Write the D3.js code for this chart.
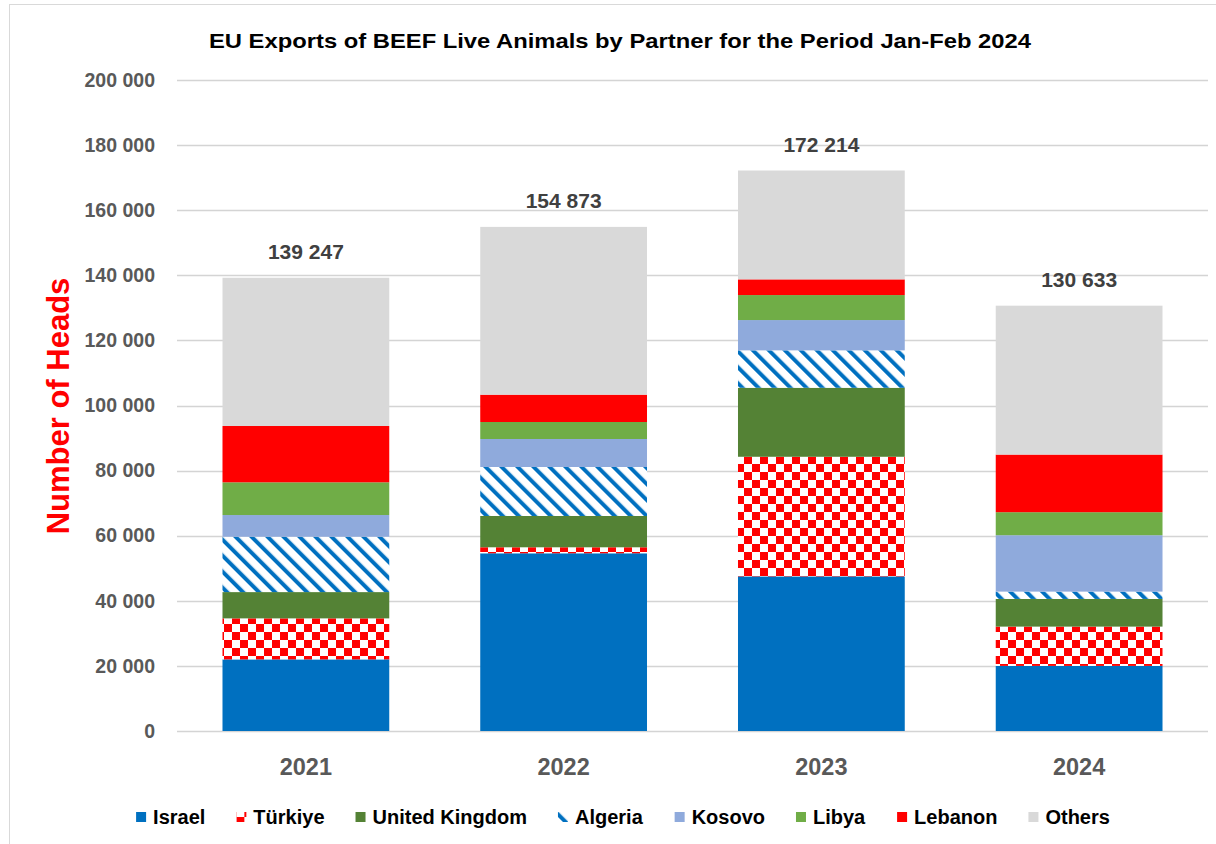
<!DOCTYPE html>
<html>
<head>
<meta charset="utf-8">
<script src="https://cdn.jsdelivr.net/npm/d3@7/dist/d3.min.js"></script>
<style>
  body { margin: 0; background: #fff; }
  svg { display: block; font-family: "Liberation Sans", Arial, sans-serif; }
</style>
</head>
<body>
<svg id="chart" width="1216" height="844"></svg>
<script>
// DATA
var years = ["2021", "2022", "2023", "2024"];
var partners = ["Israel", "Türkiye", "United Kingdom", "Algeria", "Kosovo", "Libya", "Lebanon", "Others"];
var israel   = [22000, 54600, 47500, 20000];
var turkiye  = [12600,  1840, 36750, 12070];
var uk       = [ 8080,  9620, 21200,  8510];
var algeria  = [17000, 15050, 11490,  2240];
var kosovo   = [ 6670,  8600,  9310, 17330];
var libya    = [10050,  5220,  7680,  7070];
var lebanon  = [17300,  8390,  4820, 17700];
var others   = [45547, 51555, 33443, 45748];
var totals   = [139247, 154873, 172214, 130633];
var yTicks   = [0, 20000, 40000, 60000, 80000, 100000, 120000, 140000, 160000, 180000, 200000];

var seriesValues = [israel, turkiye, uk, algeria, kosovo, libya, lebanon, others];
var fills = ["#0070C0", "url(#checker)", "#548235", "url(#diag)", "#8FAADC", "#70AD47", "#FF0000", "#D9D9D9"];

var svg = d3.select("#chart");

// chart border
svg.append("rect")
  .attr("x", 9.5).attr("y", 4.5)
  .attr("width", 1230).attr("height", 860)
  .attr("fill", "none").attr("stroke", "#d9d9d9");

// PATTERNS
var defs = svg.append("defs");
var chk = defs.append("pattern")
  .attr("id", "checker")
  .attr("patternUnits", "userSpaceOnUse")
  .attr("width", 16).attr("height", 16);
chk.append("rect").attr("width", 16).attr("height", 16).attr("fill", "#fff");
chk.append("rect").attr("x", 0).attr("y", 0).attr("width", 8).attr("height", 8).attr("fill", "#FF0000");
chk.append("rect").attr("x", 8).attr("y", 8).attr("width", 8).attr("height", 8).attr("fill", "#FF0000");

var dg = defs.append("pattern")
  .attr("id", "diag")
  .attr("patternUnits", "userSpaceOnUse")
  .attr("width", 11.31).attr("height", 11.31)
  .attr("patternTransform", "rotate(-45)");
dg.append("rect").attr("width", 11.31).attr("height", 11.31).attr("fill", "#fff");
dg.append("rect").attr("width", 4).attr("height", 11.31).attr("fill", "#0070C0");

// SCALES
var x = d3.scaleBand()
  .domain(years)
  .range([177, 1208])
  .paddingInner(0.353)
  .paddingOuter(0.1765);

var y = d3.scaleLinear()
  .domain([0, 200000])
  .range([731, 80]);

var fmt = function(v) { return d3.format(",")(v).replace(/,/g, " "); };

// gridlines
svg.append("g")
  .selectAll("line")
  .data(yTicks)
  .enter().append("line")
  .attr("x1", 177).attr("x2", 1208)
  .attr("y1", function(d) { return Math.round(y(d)) + 0.5; })
  .attr("y2", function(d) { return Math.round(y(d)) + 0.5; })
  .attr("stroke", "#d4d4d4").attr("stroke-width", 1.3);

// y axis (no line, labels only)
var yAxis = svg.append("g")
  .attr("transform", "translate(177,0)")
  .call(d3.axisLeft(y).tickValues(yTicks).tickFormat(fmt).tickSize(0).tickPadding(22));
yAxis.select(".domain").remove();
yAxis.selectAll("text")
  .attr("font-family", "Liberation Sans, Arial, sans-serif")
  .attr("font-size", 19.5).attr("font-weight", "bold").attr("fill", "#595959");

// x axis labels
var xAxis = svg.append("g")
  .attr("transform", "translate(0,731)")
  .call(d3.axisBottom(x).tickSize(0).tickPadding(27));
xAxis.select(".domain").remove();
xAxis.selectAll("text")
  .attr("font-family", "Liberation Sans, Arial, sans-serif")
  .attr("font-size", 23.5).attr("font-weight", "bold").attr("fill", "#595959");

// STACK
var rows = years.map(function(yr, i) {
  var r = { year: yr };
  partners.forEach(function(p, k) { r[p] = seriesValues[k][i]; });
  return r;
});
var stacked = d3.stack().keys(partners)(rows);

svg.append("g")
  .selectAll("g")
  .data(stacked)
  .enter().append("g")
  .attr("fill", function(d, i) { return fills[i]; })
  .selectAll("rect")
  .data(function(d) { return d; })
  .enter().append("rect")
  .attr("x", function(d) { return x(d.data.year); })
  .attr("width", x.bandwidth())
  .attr("y", function(d) { return y(d[1]); })
  .attr("height", function(d) { return y(d[0]) - y(d[1]); });

// total labels
svg.append("g")
  .selectAll("text")
  .data(years)
  .enter().append("text")
  .attr("x", function(d) { return x(d) + x.bandwidth() / 2; })
  .attr("y", function(d, i) { return y(d3.sum(seriesValues, function(s) { return s[i]; })) - 19; })
  .attr("text-anchor", "middle")
  .attr("font-size", 21).attr("font-weight", "bold").attr("fill", "#404040")
  .text(function(d, i) { return fmt(totals[i]); });

// title
svg.append("text")
  .attr("x", 620).attr("y", 48)
  .attr("text-anchor", "middle")
  .attr("font-size", 21).attr("font-weight", "bold").attr("fill", "#000")
  .attr("textLength", 822).attr("lengthAdjust", "spacingAndGlyphs")
  .text("EU Exports of BEEF Live Animals by Partner for the Period Jan-Feb 2024");

// y axis title
svg.append("text")
  .attr("transform", "translate(58,406) rotate(-90)")
  .attr("text-anchor", "middle")
  .attr("dominant-baseline", "central")
  .attr("font-size", 31).attr("font-weight", "bold").attr("fill", "#FF0000")
  .text("Number of Heads");

// LEGEND
var legend = svg.append("g");
var items = legend.selectAll("g")
  .data(partners)
  .enter().append("g");
items.append("rect")
  .attr("width", 10).attr("height", 10)
  .attr("y", -5)
  .attr("fill", function(d, i) { return fills[i]; });
items.append("text")
  .attr("x", 17)
  .attr("dominant-baseline", "central")
  .attr("font-size", 20).attr("font-weight", "bold").attr("fill", "#000")
  .text(function(d) { return d; });

var widths = [];
items.each(function() { widths.push(this.getBBox().width); });
var gap = 31;
var totalW = d3.sum(widths) + gap * (widths.length - 1);
var cx = 623 - totalW / 2;
items.attr("transform", function(d, i) {
  var t = "translate(" + cx + ",817)";
  cx += widths[i] + gap;
  return t;
});
</script>
</body>
</html>
